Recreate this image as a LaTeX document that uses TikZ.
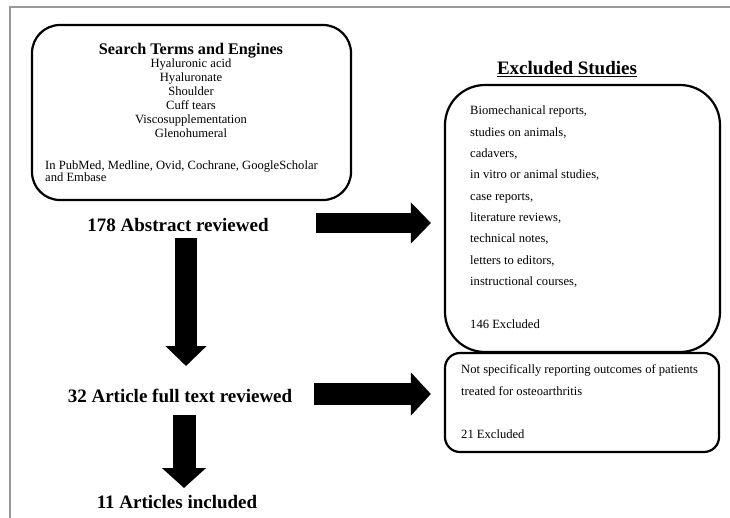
\documentclass[tikz,border=0pt]{standalone}
\usepackage{fontspec}
\setmainfont{Liberation Serif}
\usetikzlibrary{arrows.meta}

\tikzset{
  roundbox/.style={draw, line width=2.2pt, rounded corners=#1, inner sep=0pt},
  bigtext/.style={font=\fontsize{19}{22}\selectfont\bfseries, inner sep=0pt, anchor=base},
  smalltext/.style={font=\fontsize{12.6}{14}\selectfont, inner sep=0pt, anchor=base},
  fatarrow/.style 2 args={line width=#1, -{Triangle[length=20pt, width=#2]}},
}

\begin{document}
\begin{tikzpicture}[x=1pt, y=-1pt]
  %%%%% FRAME %%%%%
  \useasboundingbox (0,0) rectangle (730,518);
  \draw[line width=1.2pt, color=black!40] (730,7) -- (10,7) -- (10,518);

  %%%%% SEARCH BOX %%%%%
  \node[roundbox=28pt, minimum width=319pt, minimum height=175pt] (search) at (191.5,112.5) {};
  \node[smalltext, font=\fontsize{16.2}{18}\selectfont\bfseries] (searchtitle) at (191,55) {Search Terms and Engines};
  \foreach \term [count=\i] in {Hyaluronic acid, Hyaluronate, Shoulder, Cuff tears, Viscosupplementation, Glenohumeral}
    \node[smalltext] (term\i) at (191,54+14*\i) {\term};
  \node[smalltext, anchor=base west] (engines1) at (45,170) {In PubMed, Medline, Ovid, Cochrane, GoogleScholar};
  \node[smalltext, anchor=base west] (engines2) at (45,182) {and Embase};

  %%%%% FLOW %%%%%
  \node[bigtext] (abstract) at (178,232) {178 Abstract reviewed};
  \node[bigtext] (fulltext) at (180,402) {32 Article full text reviewed};
  \node[bigtext] (included) at (177,508) {11 Articles included};

  %%%%% EXCLUDED %%%%%
  \node[bigtext] (exclhead) at (567,75) {\underline{Excluded Studies}};
  \node[roundbox=40pt, minimum width=275pt, minimum height=267pt] (excl1) at (582.5,218.5) {};
  \foreach \reason [count=\i] in {{Biomechanical reports,}, {studies on animals,}, {cadavers,}, {in vitro or animal studies,}, {case reports,}, {literature reviews,}, {technical notes,}, {letters to editors,}, {instructional courses,}}
    \node[smalltext, anchor=base west] (reason\i) at (470,93.7+21.3*\i) {\reason};
  \node[smalltext, anchor=base west] (count1) at (470,328) {146 Excluded};

  \node[roundbox=15pt, minimum width=274pt, minimum height=99pt] (excl2) at (582,402.5) {};
  \node[smalltext, anchor=base west] (outcome1) at (461,373) {Not specifically reporting outcomes of patients};
  \node[smalltext, anchor=base west] (outcome2) at (461,395) {treated for osteoarthritis};
  \node[smalltext, anchor=base west] (count2) at (461,438) {21 Excluded};

  %%%%% ARROWS %%%%%
  \coordinate (r1s) at (316,223);
  \coordinate (r1e) at ([xshift=-13pt]excl1.west |- r1s);
  \coordinate (r2s) at (314,394);
  \coordinate (r2e) at ([xshift=-13pt]excl2.west |- r2s);
  \coordinate (d1s) at (186,238);
  \coordinate (d1e) at (186,366);
  \coordinate (d2s) at (184,415);
  \coordinate (d2e) at (184,488);
  \draw[fatarrow={20pt}{40pt}] (r1s) -- (r1e);
  \draw[fatarrow={22pt}{42pt}] (r2s) -- (r2e);
  \draw[fatarrow={22pt}{40pt}] (d1s) -- (d1e);
  \draw[fatarrow={23pt}{43pt}] (d2s) -- (d2e);
\end{tikzpicture}
\end{document}
